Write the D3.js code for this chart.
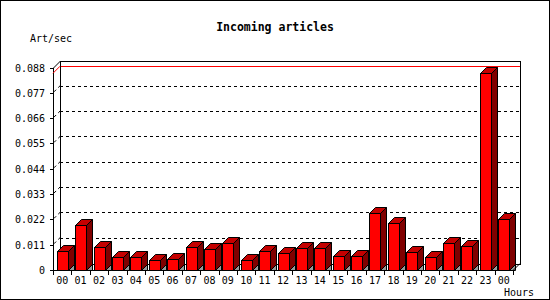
<!DOCTYPE html>
<html>
<head>
<meta charset="utf-8">
<script src="https://cdn.jsdelivr.net/npm/d3@7"></script>
<style>
  body { margin: 0; background: #fff; }
  text { font-family: "DejaVu Sans Mono", "Liberation Mono", monospace; fill: #000; }
</style>
</head>
<body>
<div class="chart"></div>
<script>
// data
const hours = ["00","01","02","03","04","05","06","07","08","09","10","11","12",
               "13","14","15","16","17","18","19","20","21","22","23","00"];
const artPerSec = [0.0081, 0.0195, 0.0102, 0.0055, 0.0055, 0.0042, 0.0046, 0.0099,
                   0.0090, 0.0116, 0.0042, 0.0081, 0.0072, 0.0094, 0.0094, 0.0059,
                   0.0059, 0.0248, 0.0203, 0.0077, 0.0055, 0.0116, 0.0103, 0.0855, 0.0220];
const yTicks = [0, 0.011, 0.022, 0.033, 0.044, 0.055, 0.066, 0.077, 0.088];
const yTickLabels = ["0","0.011","0.022","0.033","0.044","0.055","0.066","0.077","0.088"];

const width = 550, height = 300;
const depth = 7;      // depth of the 3d walls
const barDepth = 6;   // depth of the bars
const barWidth = 11;

const svg = d3.select(".chart").append("svg")
    .attr("width", width)
    .attr("height", height);

// background + border
svg.append("rect")
    .attr("x", 0.5).attr("y", 0.5)
    .attr("width", width - 1).attr("height", height - 1)
    .attr("fill", "#fff").attr("stroke", "#000");

// scales (front plane)
const x = d3.scaleBand()
    .domain(d3.range(hours.length))
    .range([53, 513])
    .padding(0);

const y = d3.scaleLinear()
    .domain([0, 0.088])
    .range([270, 67.5]);

const x0 = x.range()[0], x1 = x.range()[1];
const y0 = y(0), yTop = y(0.088);

const g = svg.append("g").attr("shape-rendering", "crispEdges");

// grid lines on back wall + left wall
const grid = yTicks.filter(d => d > 0 && d < 0.088);
g.selectAll(".grid")
    .data(grid)
    .join("line")
    .attr("class", "grid")
    .attr("x1", x0 + depth).attr("x2", x1 + depth)
    .attr("y1", d => Math.round(y(d) - depth) + 0.5)
    .attr("y2", d => Math.round(y(d) - depth) + 0.5)
    .attr("stroke", "#000")
    .attr("stroke-dasharray", "3,3");

svg.selectAll(".gridside")
    .data(grid)
    .join("line")
    .attr("class", "gridside")
    .attr("x1", x0 + 1).attr("x2", x0 + depth)
    .attr("y1", d => y(d) - 1).attr("y2", d => y(d) - depth)
    .attr("stroke", "#000")
    .attr("stroke-dasharray", "3,3");

// max line (red)
const maxV = d3.max(artPerSec);
g.append("line")
    .attr("x1", x0 + depth).attr("x2", x1 + depth)
    .attr("y1", Math.round(y(maxV) - depth) + 0.5)
    .attr("y2", Math.round(y(maxV) - depth) + 0.5)
    .attr("stroke", "#f00");
svg.append("line")
    .attr("x1", x0).attr("x2", x0 + depth)
    .attr("y1", y(maxV)).attr("y2", y(maxV) - depth)
    .attr("stroke", "#f00");

// back wall frame
g.append("rect")
    .attr("x", x0 + depth + 0.5).attr("y", Math.round(yTop - depth) + 0.5)
    .attr("width", x1 - x0)
    .attr("height", Math.round(y0 - yTop))
    .attr("fill", "none").attr("stroke", "#000");

// left wall: front axis + top diagonal
g.append("line")
    .attr("x1", x0 + 0.5).attr("x2", x0 + 0.5)
    .attr("y1", yTop).attr("y2", y0)
    .attr("stroke", "#000");
svg.append("line")
    .attr("x1", x0 + 0.5).attr("x2", x0 + depth + 0.5)
    .attr("y1", yTop + 0.5).attr("y2", yTop - depth + 0.5)
    .attr("stroke", "#000");

// bars
const bars = svg.append("g")
    .selectAll("g")
    .data(artPerSec)
    .join("g");

const bx = (d, i) => Math.round(x(i) + (x.bandwidth() - barWidth) / 2) + 0.5;
const by = d => Math.round(y(d)) + 0.5;
const base = Math.round(y0) + 0.5;

// floor shadow
bars.append("path")
    .attr("d", (d, i) => {
        const r = bx(d, i) + barWidth;
        return `M${r},${base}L${r + barDepth},${base - barDepth}L${r + barDepth},${base}Z`;
    })
    .attr("fill", "#999").attr("stroke", "#000").attr("stroke-width", 1);

// side face
bars.append("path")
    .attr("d", (d, i) => {
        const r = bx(d, i) + barWidth, t = by(d);
        return `M${r},${base}L${r + barDepth},${base - barDepth}L${r + barDepth},${t - barDepth}L${r},${t}Z`;
    })
    .attr("fill", "#800000").attr("stroke", "#000");

// top face
bars.append("path")
    .attr("d", (d, i) => {
        const l = bx(d, i), r = l + barWidth, t = by(d);
        return `M${l},${t}L${l + barDepth},${t - barDepth}L${r + barDepth},${t - barDepth}L${r},${t}Z`;
    })
    .attr("fill", "#c40000").attr("stroke", "#000");

// front face
bars.append("rect")
    .attr("x", (d, i) => bx(d, i))
    .attr("y", d => by(d))
    .attr("width", barWidth)
    .attr("height", d => base - by(d))
    .attr("fill", "#f00").attr("stroke", "#000");

// floor front edge + right edge
g.append("line")
    .attr("x1", x0).attr("x2", x1)
    .attr("y1", base).attr("y2", base)
    .attr("stroke", "#000");
svg.append("line")
    .attr("x1", x1).attr("x2", x1 + depth)
    .attr("y1", base).attr("y2", base - depth)
    .attr("stroke", "#000");

// y ticks + labels
g.selectAll(".ytick")
    .data(yTicks)
    .join("line")
    .attr("class", "ytick")
    .attr("x1", x0 - 3).attr("x2", x0)
    .attr("y1", d => Math.round(y(d)) + 0.5).attr("y2", d => Math.round(y(d)) + 0.5)
    .attr("stroke", "#000");

svg.selectAll(".ylabel")
    .data(yTicks)
    .join("text")
    .attr("class", "ylabel")
    .attr("x", x0 - 8)
    .attr("y", d => y(d) + 4)
    .attr("text-anchor", "end")
    .attr("font-size", 10)
    .text((d, i) => yTickLabels[i]);

// x ticks + labels
g.selectAll(".xtick")
    .data(d3.range(hours.length + 1))
    .join("line")
    .attr("class", "xtick")
    .attr("x1", i => Math.round(x0 + i * x.step()) + 0.5)
    .attr("x2", i => Math.round(x0 + i * x.step()) + 0.5)
    .attr("y1", base).attr("y2", base + 4)
    .attr("stroke", "#000");

svg.selectAll(".xlabel")
    .data(hours)
    .join("text")
    .attr("class", "xlabel")
    .attr("x", (d, i) => x(i) + x.bandwidth() / 2)
    .attr("y", 284)
    .attr("text-anchor", "middle")
    .attr("font-size", 10)
    .text(d => d);

// titles
svg.append("text")
    .attr("x", 275).attr("y", 31)
    .attr("text-anchor", "middle")
    .attr("font-size", 11.5)
    .attr("font-weight", "bold")
    .text("Incoming articles");

svg.append("text")
    .attr("x", 30).attr("y", 42)
    .attr("font-size", 10)
    .text("Art/sec");

svg.append("text")
    .attr("x", 504).attr("y", 296)
    .attr("font-size", 10)
    .text("Hours");
</script>
</body>
</html>
